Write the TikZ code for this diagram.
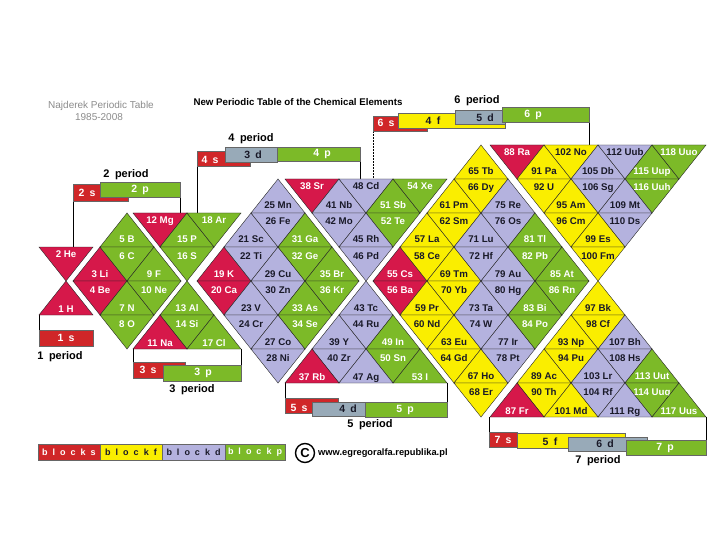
\documentclass[tikz,border=0pt]{standalone}
\usepackage{fontspec}
\setmainfont{Liberation Sans}
\definecolor{ered}{RGB}{214,24,74}
\definecolor{bred}{RGB}{208,38,40}
\definecolor{egreen}{RGB}{124,186,40}
\definecolor{elav}{RGB}{180,178,222}
\definecolor{eyel}{RGB}{250,238,0}
\definecolor{bgray}{RGB}{152,170,184}
\definecolor{titlegray}{RGB}{140,140,140}
\definecolor{dtext}{RGB}{25,25,40}
\tikzset{
 cell/.style={draw=black!85, line width=0.4pt},
 lab/.style={font=\bfseries\fontsize{9.7}{10}\selectfont, inner sep=0pt, anchor=base},
 bar/.style={draw=black!60, line width=0.4pt},
 bartext/.style={font=\bfseries\fontsize{10.5}{11}\selectfont, inner sep=0pt},
 per/.style={font=\bfseries\fontsize{11}{12}\selectfont, inner sep=0pt},
 brk/.style={draw=black, line width=0.5pt},
}
% down triangle: cx,row,fill,text,num,sym
\newcommand\dnT[6]{%
  \pgfmathsetmacro\ya{145+34*#2}\pgfmathsetmacro\yb{\ya+34}%
  \filldraw[cell,fill=#3] ({#1-27},\ya) -- ({#1+27},\ya) -- (#1,\yb) -- cycle;
  \node[lab,text=#4] (e#5) at (#1,{\ya+11}) {#5 #6};}
% up triangle
\newcommand\upT[6]{%
  \pgfmathsetmacro\ya{145+34*#2}\pgfmathsetmacro\yb{\ya+34}%
  \filldraw[cell,fill=#3] (#1,\ya) -- ({#1+27},\yb) -- ({#1-27},\yb) -- cycle;
  \node[lab,text=#4] (e#5) at (#1,{\yb-3}) {#5 #6};}
% diamond: cx,row,fill,text,n1,s1,n2,s2
\newcommand\diam[8]{%
  \pgfmathsetmacro\ya{145+34*#2}\pgfmathsetmacro\yb{\ya+34}\pgfmathsetmacro\yc{\ya+68}%
  \filldraw[cell,fill=#3] (#1,\ya) -- ({#1+27},\yb) -- ({#1-27},\yb) -- cycle;
  \filldraw[cell,fill=#3] ({#1-27},\yb) -- ({#1+27},\yb) -- (#1,\yc) -- cycle;
  \node[lab,text=#4] (e#5) at (#1,{\yb-4}) {#5 #6};
  \node[lab,text=#4] (e#7) at (#1,{\yb+12}) {#7 #8};}
\begin{document}
\begin{tikzpicture}[x=1pt,y=-1pt]
\fill[white] (0,0) rectangle (720,540);
\useasboundingbox (0,0) rectangle (720,540);

% titles
\node[font=\fontsize{10}{12}\selectfont, text=titlegray] (t1) at (101,106) {Najderek Periodic Table};
\node[font=\fontsize{10}{12}\selectfont, text=titlegray] (t2) at (99,117) {1985-2008};
\node[font=\bfseries\fontsize{9.7}{11}\selectfont] (t3) at (298,102) {New Periodic Table of the Chemical Elements};

% bracket lines
\draw[brk] (39,315) -- (39,330);
\draw[brk] (73,201) -- (73,247);
\draw[brk] (180,197) -- (180,213);
\draw[brk] (133,349) -- (133,362);
\draw[brk] (241,349) -- (241,365);
\draw[brk] (197,166) -- (197,213);
\draw[brk] (360,161) -- (360,179);
\draw[brk] (285,383) -- (285,398);
\draw[brk] (447,383) -- (447,402);
\draw[brk, densely dotted] (373,131) -- (373,179);
\draw[brk] (589,122) -- (589,145);
\draw[brk] (489,417) -- (489,432);
\draw[brk] (706,417) -- (706,440);

% period 1
\dnT{66}{3}{ered}{white}{2}{He}
\upT{66}{4}{ered}{white}{1}{H}
% period 2
\diam{100}{3}{ered}{white}{3}{Li}{4}{Be}
\diam{127}{2}{egreen}{white}{5}{B}{6}{C}
\diam{127}{4}{egreen}{white}{7}{N}{8}{O}
\diam{154}{3}{egreen}{white}{9}{F}{10}{Ne}
% period 3
\dnT{160}{2}{ered}{white}{12}{Mg}
\diam{187}{2}{egreen}{white}{15}{P}{16}{S}
\dnT{214}{2}{egreen}{white}{18}{Ar}
\diam{187}{4}{egreen}{white}{13}{Al}{14}{Si}
\upT{160}{5}{ered}{white}{11}{Na}
\upT{214}{5}{egreen}{white}{17}{Cl}
% period 4
\diam{224}{3}{ered}{white}{19}{K}{20}{Ca}
\diam{251}{2}{elav}{dtext}{21}{Sc}{22}{Ti}
\diam{278}{1}{elav}{dtext}{25}{Mn}{26}{Fe}
\diam{251}{4}{elav}{dtext}{23}{V}{24}{Cr}
\diam{278}{3}{elav}{dtext}{29}{Cu}{30}{Zn}
\diam{305}{2}{egreen}{white}{31}{Ga}{32}{Ge}
\diam{278}{5}{elav}{dtext}{27}{Co}{28}{Ni}
\diam{305}{4}{egreen}{white}{33}{As}{34}{Se}
\diam{332}{3}{egreen}{white}{35}{Br}{36}{Kr}
% period 5
\dnT{312}{1}{ered}{white}{38}{Sr}
\diam{339}{1}{elav}{dtext}{41}{Nb}{42}{Mo}
\dnT{366}{1}{elav}{dtext}{48}{Cd}
\diam{393}{1}{egreen}{white}{51}{Sb}{52}{Te}
\dnT{420}{1}{egreen}{white}{54}{Xe}
\diam{366}{2}{elav}{dtext}{45}{Rh}{46}{Pd}
\diam{366}{4}{elav}{dtext}{43}{Tc}{44}{Ru}
\diam{339}{5}{elav}{dtext}{39}{Y}{40}{Zr}
\diam{393}{5}{egreen}{white}{49}{In}{50}{Sn}
\upT{312}{6}{ered}{white}{37}{Rb}
\upT{366}{6}{elav}{dtext}{47}{Ag}
\upT{420}{6}{egreen}{white}{53}{I}
% period 6
\diam{400}{3}{ered}{white}{55}{Cs}{56}{Ba}
\diam{427}{2}{eyel}{dtext}{57}{La}{58}{Ce}
\diam{454}{1}{eyel}{dtext}{61}{Pm}{62}{Sm}
\diam{481}{0}{eyel}{dtext}{65}{Tb}{66}{Dy}
\diam{427}{4}{eyel}{dtext}{59}{Pr}{60}{Nd}
\diam{454}{3}{eyel}{dtext}{69}{Tm}{70}{Yb}
\diam{481}{2}{elav}{dtext}{71}{Lu}{72}{Hf}
\diam{508}{1}{elav}{dtext}{75}{Re}{76}{Os}
\diam{454}{5}{eyel}{dtext}{63}{Eu}{64}{Gd}
\diam{481}{4}{elav}{dtext}{73}{Ta}{74}{W}
\diam{508}{3}{elav}{dtext}{79}{Au}{80}{Hg}
\diam{535}{2}{egreen}{white}{81}{Tl}{82}{Pb}
\diam{481}{6}{eyel}{dtext}{67}{Ho}{68}{Er}
\diam{508}{5}{elav}{dtext}{77}{Ir}{78}{Pt}
\diam{535}{4}{egreen}{white}{83}{Bi}{84}{Po}
\diam{562}{3}{egreen}{white}{85}{At}{86}{Rn}
% period 7
\dnT{517}{0}{ered}{white}{88}{Ra}
\diam{544}{0}{eyel}{dtext}{91}{Pa}{92}{U}
\dnT{571}{0}{eyel}{dtext}{102}{No}
\diam{598}{0}{elav}{dtext}{105}{Db}{106}{Sg}
\dnT{625}{0}{elav}{dtext}{112}{Uub}
\diam{652}{0}{egreen}{white}{115}{Uup}{116}{Uuh}
\dnT{679}{0}{egreen}{white}{118}{Uuo}
\diam{571}{1}{eyel}{dtext}{95}{Am}{96}{Cm}
\diam{625}{1}{elav}{dtext}{109}{Mt}{110}{Ds}
\diam{598}{2}{eyel}{dtext}{99}{Es}{100}{Fm}
\diam{598}{4}{eyel}{dtext}{97}{Bk}{98}{Cf}
\diam{571}{5}{eyel}{dtext}{93}{Np}{94}{Pu}
\diam{625}{5}{elav}{dtext}{107}{Bh}{108}{Hs}
\diam{544}{6}{eyel}{dtext}{89}{Ac}{90}{Th}
\diam{598}{6}{elav}{dtext}{103}{Lr}{104}{Rf}
\diam{652}{6}{egreen}{white}{113}{Uut}{114}{Uuq}
\upT{517}{7}{ered}{white}{87}{Fr}
\upT{571}{7}{eyel}{dtext}{101}{Md}
\upT{625}{7}{elav}{dtext}{111}{Rg}
\upT{679}{7}{egreen}{white}{117}{Uus}

% period bars
% 1
\draw[bar,fill=bred] (39,330) rectangle (93,346);
\node[bartext,text=white] (b1s) at (66,338) {1\enspace s};
\node[per] (p1) at (60,357) {1\enspace period};
% 2
\draw[bar,fill=bred] (73,184) rectangle (128,201);
\draw[bar,fill=egreen] (100,182) rectangle (180,197);
\node[bartext,text=white] (b2s) at (87,193) {2\enspace s};
\node[bartext,text=white] (b2p) at (140,190) {2\enspace p};
\node[per] (p2) at (126,175) {2\enspace period};
% 3
\draw[bar,fill=bred] (133,362) rectangle (185,378);
\draw[bar,fill=egreen] (163,365) rectangle (241,381);
\node[bartext,text=white] (b3s) at (148,370) {3\enspace s};
\node[bartext,text=white] (b3p) at (203,373) {3\enspace p};
\node[per] (p3) at (192,390) {3\enspace period};
% 4
\draw[bar,fill=bred] (197,151) rectangle (250,166);
\draw[bar,fill=bgray] (225,147) rectangle (277,162);
\draw[bar,fill=egreen] (277,147) rectangle (360,161);
\node[bartext,text=white] (b4s) at (210,160) {4\enspace s};
\node[bartext,text=dtext] (b3d) at (253,155) {3\enspace d};
\node[bartext,text=white] (b4p) at (322,154) {4\enspace p};
\node[per] (p4) at (251,139) {4\enspace period};
% 5
\draw[bar,fill=bred] (285,398) rectangle (338,413);
\draw[bar,fill=bgray] (312,402) rectangle (365,416);
\draw[bar,fill=egreen] (365,402) rectangle (447,417);
\node[bartext,text=white] (b5s) at (299,408) {5\enspace s};
\node[bartext,text=dtext] (b4d) at (348,409) {4\enspace d};
\node[bartext,text=white] (b5p) at (405,410) {5\enspace p};
\node[per] (p5) at (370,425) {5\enspace period};
% 6
\draw[bar,fill=bred] (373,116) rectangle (427,131);
\draw[bar,fill=eyel] (398,113) rectangle (505,128);
\draw[bar,fill=bgray] (455,110) rectangle (505,124);
\draw[bar,fill=egreen] (502,107) rectangle (589,122);
\node[bartext,text=white] (b6s) at (386,123) {6\enspace s};
\node[bartext,text=dtext] (b4f) at (433,121) {4\enspace f};
\node[bartext,text=dtext] (b5d) at (485,118) {5\enspace d};
\node[bartext,text=white] (b6p) at (533,115) {6\enspace p};
\node[per] (p6) at (477,101) {6\enspace period};
% 7
\draw[bar,fill=bred] (489,432) rectangle (517,447);
\draw[bar,fill=eyel] (517,433) rectangle (625,448);
\draw[bar,fill=bgray] (568,437) rectangle (647,451);
\draw[bar,fill=egreen] (626,440) rectangle (706,455);
\node[bartext,text=white] (b7s) at (503,440) {7\enspace s};
\node[bartext,text=dtext] (b5f) at (550,442) {5\enspace f};
\node[bartext,text=dtext] (b6d) at (605,444) {6\enspace d};
\node[bartext,text=white] (b7p) at (665,448) {7\enspace p};
\node[per] (p7) at (598,461) {7\enspace period};

% legend
\def\g{\hspace{5pt}}
\draw[bar,fill=bred] (38,444) rectangle (100,460);
\draw[bar,fill=eyel] (100,444) rectangle (162,460);
\draw[bar,fill=elav] (162,444) rectangle (225,460);
\draw[bar,fill=egreen] (225,444) rectangle (285,460);
\node[bartext,font=\bfseries\fontsize{9}{10}\selectfont,text=white] (ls) at (69,452) {b\g l\g o\g c\g k\g s};
\node[bartext,font=\bfseries\fontsize{9}{10}\selectfont,text=dtext] (lf) at (131,452) {b\g l\g o\g c\g k\g f};
\node[bartext,font=\bfseries\fontsize{9}{10}\selectfont,text=dtext] (ld) at (193.5,452) {b\g l\g o\g c\g k\g d};
\node[bartext,font=\bfseries\fontsize{9}{10}\selectfont,text=white] (lp) at (255,452) {b\g l\g o\g c\g k\g p};
\draw[line width=1.4pt] (305,453) circle (9.5);
\node[font=\bfseries\fontsize{13}{14}\selectfont, inner sep=0pt] (cc) at (305,453) {C};
\node[font=\bfseries\fontsize{9.3}{10}\selectfont, anchor=west, inner sep=0pt] (url) at (318,453.5) {www.egregoralfa.republika.pl};
\end{tikzpicture}
\end{document}
